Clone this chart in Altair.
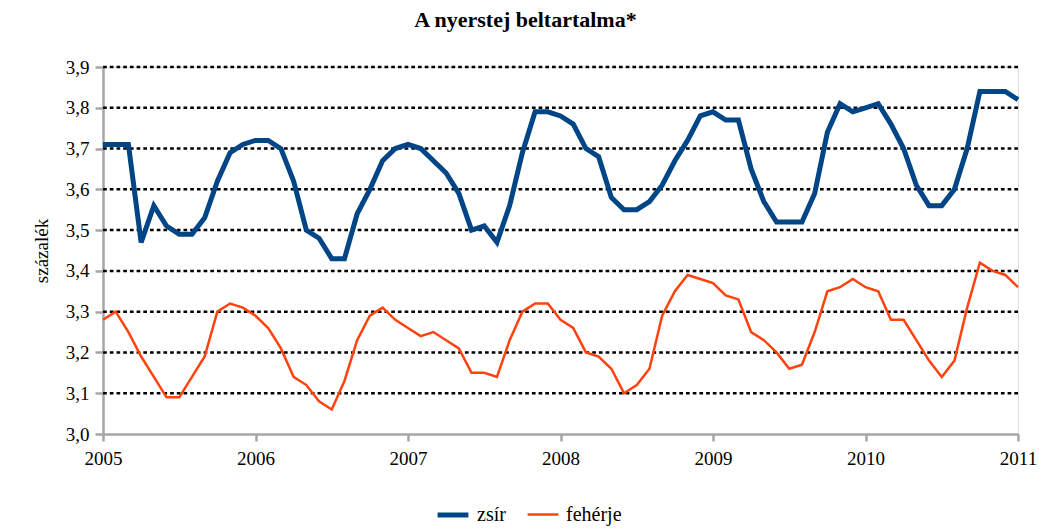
import altair as alt
import pandas as pd

# Monthly data, Jan 2005 .. Jan 2011 (73 points)
zsir = [3.71, 3.71, 3.71, 3.47, 3.56, 3.51, 3.49, 3.49, 3.53, 3.62, 3.69, 3.71,
        3.72, 3.72, 3.70, 3.62, 3.50, 3.48, 3.43, 3.43, 3.54, 3.60, 3.67, 3.70,
        3.71, 3.70, 3.67, 3.64, 3.59, 3.50, 3.51, 3.47, 3.56, 3.69, 3.79, 3.79,
        3.78, 3.76, 3.70, 3.68, 3.58, 3.55, 3.55, 3.57, 3.61, 3.67, 3.72, 3.78,
        3.79, 3.77, 3.77, 3.65, 3.57, 3.52, 3.52, 3.52, 3.59, 3.74, 3.81, 3.79,
        3.80, 3.81, 3.76, 3.70, 3.61, 3.56, 3.56, 3.60, 3.70, 3.84, 3.84, 3.84,
        3.82]
feherje = [3.28, 3.30, 3.25, 3.19, 3.14, 3.09, 3.09, 3.14, 3.19, 3.30, 3.32, 3.31,
           3.29, 3.26, 3.21, 3.14, 3.12, 3.08, 3.06, 3.13, 3.23, 3.29, 3.31, 3.28,
           3.26, 3.24, 3.25, 3.23, 3.21, 3.15, 3.15, 3.14, 3.23, 3.30, 3.32, 3.32,
           3.28, 3.26, 3.20, 3.19, 3.16, 3.10, 3.12, 3.16, 3.29, 3.35, 3.39, 3.38,
           3.37, 3.34, 3.33, 3.25, 3.23, 3.20, 3.16, 3.17, 3.25, 3.35, 3.36, 3.38,
           3.36, 3.35, 3.28, 3.28, 3.23, 3.18, 3.14, 3.18, 3.31, 3.42, 3.40, 3.39,
           3.36]
series_names = ["zsír", "fehérje"]
series_colors = ["#004586", "#ff420e"]
year_ticks = [2005, 2006, 2007, 2008, 2009, 2010, 2011]
y_ticks = [3.0, 3.1, 3.2, 3.3, 3.4, 3.5, 3.6, 3.7, 3.8, 3.9]
grid_values = [3.1, 3.2, 3.3, 3.4, 3.5, 3.6, 3.7, 3.8, 3.9]

rows = []
for i, v in enumerate(zsir):
    rows.append({"t": 2005 + i / 12, "value": v, "series": "zsír"})
for i, v in enumerate(feherje):
    rows.append({"t": 2005 + i / 12, "value": v, "series": "fehérje"})
df = pd.DataFrame(rows)
grid_df = pd.DataFrame({"value": grid_values})

FONT = "'Liberation Serif', 'DejaVu Serif', serif"
AXIS_GRAY = "#a6a6a6"

y_scale = alt.Scale(domain=[3.0, 3.9], nice=False, zero=False)
y_axis = alt.Axis(values=y_ticks, grid=False, title="százalék",
                  labelExpr="replace(format(datum.value, '.1f'), '.', ',')",
                  domainColor=AXIS_GRAY, domainWidth=2.5,
                  tickColor=AXIS_GRAY, tickWidth=2.5, tickSize=8,
                  labelFont=FONT, labelFontSize=19, labelColor="black",
                  labelPadding=6,
                  titleFont=FONT, titleFontSize=19, titleFontWeight="normal",
                  titleColor="black", titlePadding=14)

grid = alt.Chart(grid_df).mark_rule(
    color="black", strokeWidth=2.5, strokeDash=[3.7, 3]
).encode(y=alt.Y("value:Q", scale=y_scale, axis=y_axis))

legend_common = dict(title=None, orient="none", direction="horizontal",
                     legendX=332, legendY=430)

lines = alt.Chart(df).mark_line(strokeJoin="miter").encode(
    x=alt.X("t:Q", scale=alt.Scale(domain=[2005, 2011], nice=False, zero=False),
            axis=alt.Axis(values=year_ticks, format="d", title=None, grid=False,
                          domainColor=AXIS_GRAY, domainWidth=2.5,
                          tickColor=AXIS_GRAY, tickWidth=2.5, tickSize=7,
                          labelFont=FONT, labelFontSize=19, labelColor="black",
                          labelPadding=8, labelFlush=False)),
    y=alt.Y("value:Q", scale=y_scale, axis=y_axis),
    color=alt.Color("series:N",
                    scale=alt.Scale(domain=series_names, range=series_colors),
                    legend=alt.Legend(symbolType="stroke", symbolSize=950,
                                      labelFont=FONT, labelFontSize=20,
                                      labelColor="black", labelOffset=6,
                                      columnPadding=16, **legend_common)),
    strokeWidth=alt.StrokeWidth("series:N",
                                scale=alt.Scale(domain=series_names, range=[5, 2.5]),
                                legend=alt.Legend(**legend_common)),
    order=alt.Order("t:Q"),
)

chart = alt.layer(grid, lines).properties(
    width=915, height=367,
    title=alt.Title("A nyerstej beltartalma*", font=FONT, fontSize=22,
                    fontWeight="bold", color="black", anchor="middle",
                    dx=-35, offset=26),
    autosize=alt.AutoSizeParams(type="none"),
    padding={"left": 95, "top": 59, "right": 24, "bottom": 96},
).configure_view(stroke=None).configure(background="white")

chart.save("out.html", embed_options={"renderer": "svg", "actions": False})
